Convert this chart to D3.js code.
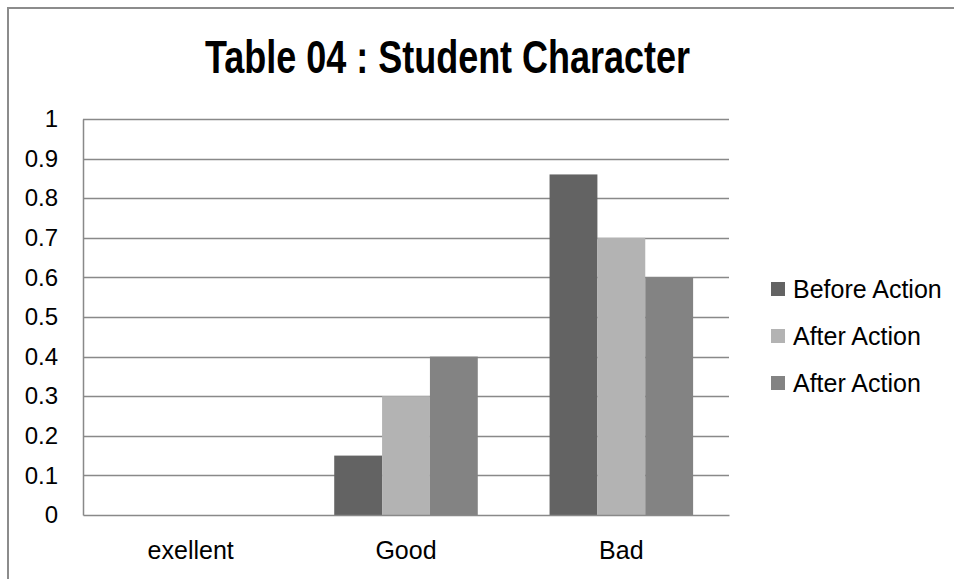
<!DOCTYPE html>
<html>
<head>
<meta charset="utf-8">
<script src="https://cdn.jsdelivr.net/npm/d3@7"></script>
<style>
  html, body { margin: 0; padding: 0; background: #fff; }
  svg { display: block; }
</style>
</head>
<body>
<svg id="chart" width="954" height="579"></svg>
<script>
const title = "Table 04 : Student Character";
const categories = ["exellent", "Good", "Bad"];
const seriesNames = ["Before Action", "After Action", "After Action"];
const seriesKeys = ["s1", "s2", "s3"];
const beforeAction = [0, 0.15, 0.86];
const afterAction1 = [0, 0.30, 0.70];
const afterAction2 = [0, 0.40, 0.60];
const yTicks = [0, 0.1, 0.2, 0.3, 0.4, 0.5, 0.6, 0.7, 0.8, 0.9, 1];
const colors = ["#636363", "#b3b3b3", "#838383"];

const seriesValues = [beforeAction, afterAction1, afterAction2];

const svg = d3.select("#chart");
const W = 954, H = 579;
const plot = { left: 83, right: 729, top: 119, bottom: 515 };
const gridColor = "#898989";
const font = "'Liberation Sans', Arial, sans-serif";

// outer frame
svg.append("rect")
  .attr("x", 8).attr("y", 8)
  .attr("width", W + 20).attr("height", H + 20)
  .attr("fill", "#fff")
  .attr("stroke", "#8c8c8c").attr("stroke-width", 2);

// title
svg.append("text")
  .attr("x", 447.5).attr("y", 73)
  .attr("text-anchor", "middle")
  .attr("font-family", "'Liberation Sans Narrow', 'Arial Narrow', 'Liberation Sans', sans-serif")
  .attr("font-weight", "bold")
  .attr("font-size", 46)
  .attr("textLength", 485)
  .attr("lengthAdjust", "spacingAndGlyphs")
  .attr("fill", "#000")
  .text(title);

const x0 = d3.scaleBand().domain(categories).range([plot.left, plot.right]).padding(0);
const x1 = d3.scaleBand().domain(seriesKeys).range([0, x0.bandwidth()]).paddingInner(0).paddingOuter(0.75);
const y = d3.scaleLinear().domain([0, 1]).range([plot.bottom, plot.top]);

// gridlines
svg.append("g")
  .selectAll("line")
  .data(yTicks.filter(d => d > 0))
  .join("line")
  .attr("x1", plot.left).attr("x2", plot.right)
  .attr("y1", d => Math.round(y(d)) + 0.5).attr("y2", d => Math.round(y(d)) + 0.5)
  .attr("stroke", gridColor).attr("stroke-width", 1.3);

// bars
const data = categories.map((c, i) => ({
  cat: c,
  vals: seriesKeys.map((k, j) => ({ key: k, idx: j, v: seriesValues[j][i] }))
}));

svg.append("g")
  .selectAll("g")
  .data(data)
  .join("g")
  .attr("transform", d => `translate(${x0(d.cat)},0)`)
  .selectAll("rect")
  .data(d => d.vals)
  .join("rect")
  .attr("x", d => x1(d.key))
  .attr("width", x1.bandwidth())
  .attr("y", d => y(d.v))
  .attr("height", d => y(0) - y(d.v))
  .attr("fill", d => colors[d.idx]);

// y axis
const yAxis = d3.axisLeft(y).tickValues(yTicks).tickSize(0).tickPadding(0)
  .tickFormat(d => d === 0 ? "0" : (d === 1 ? "1" : d3.format(".1f")(d)));
const gy = svg.append("g").attr("transform", `translate(${plot.left},0)`).call(yAxis);
gy.select(".domain").attr("stroke", gridColor).attr("stroke-width", 1.5);
gy.selectAll("text")
  .attr("x", -25)
  .attr("font-family", font)
  .attr("font-size", 24)
  .attr("fill", "#000");

// x axis
const xAxis = d3.axisBottom(x0).tickSize(0).tickPadding(0);
const gx = svg.append("g").attr("transform", `translate(0,${plot.bottom})`).call(xAxis);
gx.select(".domain").attr("stroke", gridColor).attr("stroke-width", 1.5);
gx.selectAll("text")
  .attr("y", 0)
  .attr("dy", "1.3em")
  .attr("transform", "translate(0,11)")
  .attr("font-family", font)
  .attr("font-size", 25)
  .attr("fill", "#000");

// legend
const legend = svg.append("g");
const legendY = [289, 336, 383];
seriesNames.forEach((name, i) => {
  legend.append("rect")
    .attr("x", 771).attr("y", legendY[i] - 7)
    .attr("width", 14).attr("height", 14)
    .attr("fill", colors[i]);
  legend.append("text")
    .attr("x", 793).attr("y", legendY[i])
    .attr("dy", "0.35em")
    .attr("font-family", font)
    .attr("font-size", 25)
    .attr("fill", "#000")
    .text(name);
});
</script>
</body>
</html>
